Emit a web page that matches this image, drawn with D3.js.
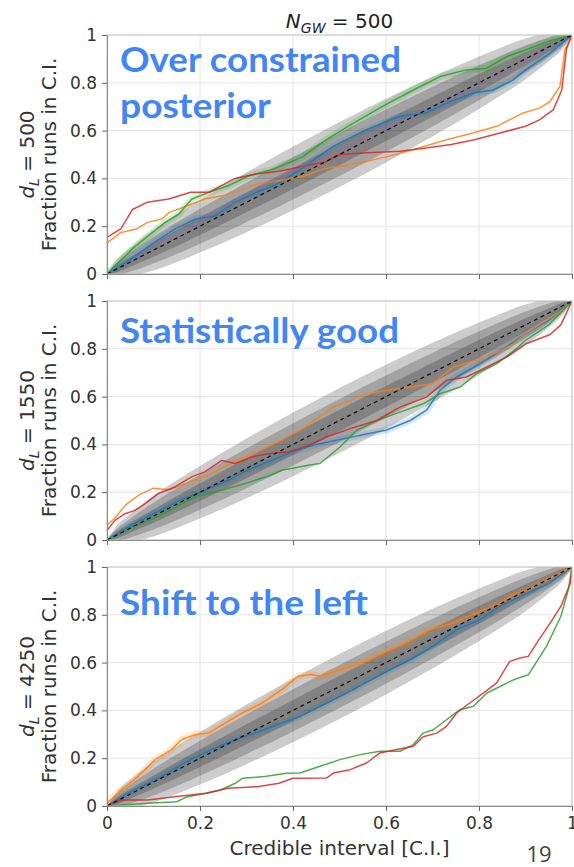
<!DOCTYPE html>
<html>
<head>
<meta charset="utf-8">
<script src="https://d3js.org/d3.v7.min.js"></script>
<style>
  body { margin: 0; background: #fff; }
  svg { display: block; }
</style>
</head>
<body>
<div class="chart"></div>
<script>
const svgWidth = 574;
const svgHeight = 867;

const margin = { top: 35, left: 107 };
const width = 465;
const panelHeight = 239;
const panelStep = 266;

// axis ticks
const xTicks = [0, 0.2, 0.4, 0.6, 0.8, 1];
const xTickLabels = ['0', '0.2', '0.4', '0.6', '0.8', '1'];
const yTicks = [0, 0.2, 0.4, 0.6, 0.8, 1];
const yTickLabels = ['0', '0.2', '0.4', '0.6', '0.8', '1'];

const distances = ['500', '1550', '4250'];
const notes = [['Over constrained', 'posterior'], ['Statistically good'], ['Shift to the left']];

// grey confidence bands: half width around the diagonal
const bandX = [0, 0.02, 0.05, 0.1, 0.2, 0.3, 0.4, 0.5, 0.6, 0.7, 0.8, 0.9, 0.95, 0.98, 1];
const band997 = [0, 0.038, 0.06, 0.085, 0.11, 0.125, 0.133, 0.136, 0.133, 0.125, 0.11, 0.085, 0.06, 0.038, 0];
const band95 = [0, 0.025, 0.04, 0.056, 0.073, 0.083, 0.088, 0.09, 0.088, 0.083, 0.073, 0.056, 0.04, 0.025, 0];
const band68 = [0, 0.013, 0.02, 0.028, 0.037, 0.042, 0.044, 0.045, 0.044, 0.042, 0.037, 0.028, 0.02, 0.013, 0];

// d_L = 500
const p1Blue = [[0,0],[0.05,0.06],[0.1,0.13],[0.146,0.188],[0.19,0.23],[0.232,0.243],[0.275,0.3],[0.32,0.34],[0.37,0.38],[0.415,0.437],[0.487,0.535],[0.558,0.604],[0.63,0.66],[0.687,0.674],[0.73,0.715],[0.788,0.757],[0.83,0.77],[0.874,0.812],[0.9,0.854],[0.95,0.92],[1,1]];
const p1Orange = [[0,0.13],[0.03,0.174],[0.063,0.188],[0.087,0.216],[0.118,0.23],[0.134,0.258],[0.165,0.279],[0.21,0.314],[0.25,0.328],[0.283,0.349],[0.323,0.377],[0.37,0.39],[0.425,0.41],[0.465,0.44],[0.52,0.455],[0.6,0.49],[0.658,0.52],[0.73,0.562],[0.787,0.59],[0.838,0.618],[0.895,0.674],[0.931,0.695],[0.953,0.722],[0.974,0.785],[0.985,0.94],[1,1]];
const p1Green = [[0,0],[0.018,0.035],[0.054,0.104],[0.089,0.16],[0.125,0.216],[0.154,0.25],[0.182,0.313],[0.218,0.341],[0.26,0.369],[0.304,0.41],[0.36,0.44],[0.42,0.49],[0.47,0.56],[0.52,0.62],[0.6,0.71],[0.659,0.77],[0.716,0.826],[0.773,0.854],[0.817,0.861],[0.86,0.91],[0.9,0.937],[0.953,0.976],[1,1]];
const p1Red = [[0,0.153],[0.03,0.19],[0.055,0.27],[0.086,0.3],[0.133,0.314],[0.18,0.342],[0.22,0.342],[0.275,0.4],[0.32,0.418],[0.37,0.43],[0.42,0.45],[0.47,0.47],[0.5,0.5],[0.56,0.507],[0.63,0.514],[0.69,0.528],[0.74,0.542],[0.79,0.562],[0.845,0.59],[0.9,0.618],[0.931,0.646],[0.96,0.688],[0.978,0.77],[0.988,0.94],[1,1]];
const p1Purple = [[0,0],[0.1,0.11],[0.2,0.22],[0.3,0.33],[0.4,0.43],[0.5,0.52],[0.6,0.61],[0.7,0.7],[0.8,0.79],[0.9,0.89],[1,1]];

// d_L = 1550
const p2Blue = [[0,0],[0.05,0.06],[0.1,0.11],[0.15,0.16],[0.2,0.2],[0.261,0.25],[0.3,0.29],[0.35,0.33],[0.4,0.37],[0.45,0.4],[0.5,0.42],[0.55,0.44],[0.6,0.459],[0.652,0.5],[0.687,0.543],[0.716,0.626],[0.752,0.682],[0.802,0.738],[0.845,0.79],[0.88,0.835],[0.9,0.863],[0.95,0.92],[1,1]];
const p2Orange = [[0,0.063],[0.016,0.09],[0.04,0.147],[0.07,0.19],[0.1,0.217],[0.134,0.21],[0.18,0.245],[0.22,0.273],[0.275,0.33],[0.323,0.37],[0.37,0.413],[0.415,0.46],[0.487,0.556],[0.558,0.612],[0.6,0.626],[0.652,0.64],[0.7,0.654],[0.745,0.724],[0.795,0.752],[0.845,0.79],[0.874,0.82],[0.9,0.863],[0.953,0.93],[0.976,0.958],[1,1]];
const p2Green = [[0,0],[0.05,0.05],[0.1,0.09],[0.15,0.14],[0.189,0.18],[0.25,0.21],[0.297,0.236],[0.35,0.27],[0.376,0.292],[0.433,0.313],[0.458,0.32],[0.501,0.389],[0.537,0.459],[0.58,0.5],[0.63,0.535],[0.68,0.57],[0.716,0.612],[0.76,0.64],[0.795,0.696],[0.838,0.738],[0.874,0.79],[0.9,0.835],[0.95,0.9],[1,1]];
const p2Red = [[0,0.04],[0.017,0.082],[0.039,0.11],[0.06,0.124],[0.082,0.152],[0.11,0.194],[0.146,0.222],[0.182,0.264],[0.21,0.285],[0.247,0.333],[0.275,0.32],[0.311,0.347],[0.347,0.361],[0.39,0.368],[0.433,0.395],[0.472,0.431],[0.523,0.466],[0.58,0.5],[0.63,0.556],[0.687,0.598],[0.73,0.668],[0.773,0.682],[0.817,0.724],[0.86,0.766],[0.9,0.82],[0.953,0.86],[0.976,0.9],[1,1]];

// d_L = 4250
const p3Blue = [[0,0],[0.046,0.054],[0.118,0.124],[0.175,0.19],[0.225,0.236],[0.275,0.277],[0.318,0.305],[0.376,0.347],[0.415,0.375],[0.472,0.43],[0.53,0.487],[0.594,0.556],[0.652,0.612],[0.7,0.668],[0.752,0.738],[0.802,0.78],[0.845,0.836],[0.89,0.878],[0.95,0.93],[1,1]];
const p3Orange = [[0,0.013],[0.032,0.068],[0.067,0.124],[0.103,0.194],[0.139,0.236],[0.16,0.277],[0.189,0.298],[0.218,0.305],[0.254,0.347],[0.29,0.389],[0.333,0.43],[0.376,0.487],[0.411,0.543],[0.437,0.55],[0.458,0.543],[0.501,0.57],[0.544,0.598],[0.594,0.64],[0.644,0.682],[0.695,0.738],[0.745,0.766],[0.795,0.808],[0.845,0.85],[0.881,0.891],[0.9,0.9],[0.95,0.95],[1,1]];
const p3Green = [[0,0],[0.087,0.011],[0.15,0.018],[0.173,0.039],[0.213,0.053],[0.244,0.067],[0.276,0.095],[0.291,0.116],[0.339,0.123],[0.386,0.137],[0.415,0.138],[0.458,0.166],[0.501,0.194],[0.544,0.215],[0.587,0.229],[0.63,0.229],[0.659,0.257],[0.68,0.305],[0.702,0.319],[0.73,0.361],[0.759,0.403],[0.788,0.417],[0.817,0.473],[0.845,0.5],[0.874,0.528],[0.906,0.549],[0.945,0.668],[0.976,0.793],[0.992,0.905],[1,1]];
const p3Red = [[0,0],[0.03,0.025],[0.087,0.025],[0.15,0.04],[0.213,0.053],[0.26,0.074],[0.323,0.081],[0.37,0.095],[0.4,0.116],[0.472,0.117],[0.487,0.138],[0.523,0.152],[0.558,0.18],[0.587,0.222],[0.623,0.236],[0.659,0.25],[0.68,0.29],[0.709,0.305],[0.73,0.333],[0.752,0.389],[0.78,0.431],[0.81,0.473],[0.838,0.515],[0.866,0.605],[0.89,0.62],[0.906,0.626],[0.929,0.696],[0.953,0.765],[0.976,0.835],[0.996,0.93],[1,1]];

const colors = {
  blue: '#1f77b4',
  orange: '#ff7f0e',
  green: '#2ca02c',
  red: '#d62728',
  purple: '#9467bd'
};

const panels = [
  { dist: distances[0], notes: notes[0], series: [['blue', p1Blue], ['orange', p1Orange], ['green', p1Green], ['red', p1Red], ['purple', p1Purple]] },
  { dist: distances[1], notes: notes[1], series: [['blue', p2Blue], ['orange', p2Orange], ['green', p2Green], ['red', p2Red]] },
  { dist: distances[2], notes: notes[2], series: [['blue', p3Blue], ['orange', p3Orange], ['green', p3Green], ['red', p3Red]] }
];

// lines that carry a soft coloured halo in the original
const haloes = [['green', 'blue'], ['blue'], ['blue', 'orange']];
// widths of the blue overlay text lines
const noteWidths = [[281, 151], [279], [248]];
const noteBaselines = [[72, 118], [343], [615]];

const svg = d3.select('.chart')
  .append('svg')
  .attr('width', svgWidth)
  .attr('height', svgHeight);

const x = d3.scaleLinear().domain([0, 1]).range([0, width]);

const mplFont = '"DejaVu Sans", sans-serif';

panels.forEach(function(panel, p) {
  const top = margin.top + p * panelStep;
  const y = d3.scaleLinear().domain([0, 1]).range([panelHeight, 0]);

  const g = svg.append('g')
    .attr('transform', `translate(${margin.left}, ${top})`);

  g.append('clipPath')
    .attr('id', 'clip' + p)
    .append('rect')
    .attr('width', width)
    .attr('height', panelHeight);

  // grid
  g.append('g').selectAll('line.gx')
    .data(xTicks)
    .enter().append('line')
    .attr('x1', d => x(d)).attr('x2', d => x(d))
    .attr('y1', 0).attr('y2', panelHeight)
    .attr('stroke', '#e4e4e4');
  g.append('g').selectAll('line.gy')
    .data(yTicks)
    .enter().append('line')
    .attr('y1', d => y(d)).attr('y2', d => y(d))
    .attr('x1', 0).attr('x2', width)
    .attr('stroke', '#e4e4e4');

  const plot = g.append('g').attr('clip-path', `url(#clip${p})`);

  // confidence bands
  [band997, band95, band68].forEach(function(band) {
    const area = d3.area()
      .x((d, i) => x(bandX[i]))
      .y0((d, i) => y(bandX[i] - d))
      .y1((d, i) => y(bandX[i] + d))
      .curve(d3.curveMonotoneX);
    plot.append('path')
      .datum(band)
      .attr('d', area)
      .attr('fill', '#000')
      .attr('fill-opacity', 0.2);
  });

  const line = d3.line()
    .x(d => x(d[0]))
    .y(d => y(d[1]));

  panel.series.forEach(function(s) {
    if (haloes[p].includes(s[0])) {
      plot.append('path')
        .datum(s[1])
        .attr('d', line)
        .attr('fill', 'none')
        .attr('stroke', colors[s[0]])
        .attr('stroke-opacity', 0.18)
        .attr('stroke-width', 7)
        .attr('stroke-linejoin', 'round');
    }
  });

  panel.series.forEach(function(s) {
    plot.append('path')
      .datum(s[1])
      .attr('d', line)
      .attr('fill', 'none')
      .attr('stroke', colors[s[0]])
      .attr('stroke-opacity', s[0] === 'purple' ? 0.45 : 0.85)
      .attr('stroke-width', 1.5)
      .attr('stroke-linejoin', 'round');
  });

  // diagonal
  plot.append('path')
    .datum([[0, 0], [1, 1]])
    .attr('d', line)
    .attr('stroke', '#111')
    .attr('stroke-width', 1.3)
    .attr('stroke-dasharray', '4,3.5');

  // frame
  g.append('rect')
    .attr('width', width)
    .attr('height', panelHeight)
    .attr('fill', 'none')
    .attr('stroke', '#c4c4c4');

  const xAxis = d3.axisBottom(x)
    .tickValues(xTicks)
    .tickSize(5)
    .tickPadding(6)
    .tickFormat((d, i) => p === 2 ? xTickLabels[i] : '');
  const xg = g.append('g')
    .attr('transform', `translate(0, ${panelHeight})`)
    .call(xAxis);

  const yAxis = d3.axisLeft(y)
    .tickValues(yTicks)
    .tickSize(5)
    .tickPadding(5)
    .tickFormat((d, i) => yTickLabels[i]);
  const yg = g.append('g').call(yAxis);

  [xg, yg].forEach(function(ax) {
    ax.select('.domain').attr('stroke', '#8c8c8c');
    ax.selectAll('.tick line').attr('stroke', '#666');
    ax.selectAll('.tick text')
      .attr('fill', '#333')
      .style('font-family', mplFont)
      .style('font-size', '17px');
  });

  // y label, two lines
  const cy = panelHeight / 2;
  const lab1 = g.append('text')
    .attr('transform', `translate(${27 - margin.left}, ${cy}) rotate(-90)`)
    .attr('text-anchor', 'middle')
    .attr('dy', '0.35em')
    .attr('fill', '#333')
    .style('font-family', mplFont)
    .style('font-size', '20px');
  lab1.append('tspan').style('font-style', 'italic').text('d');
  lab1.append('tspan').style('font-style', 'italic').style('font-size', '14px').attr('dy', 5).text('L');
  lab1.append('tspan').attr('dy', -5).text(' = ' + panel.dist);

  g.append('text')
    .attr('transform', `translate(${49 - margin.left}, ${cy}) rotate(-90)`)
    .attr('text-anchor', 'middle')
    .attr('dy', '0.35em')
    .attr('fill', '#333')
    .style('font-family', mplFont)
    .style('font-size', '20px')
    .text('Fraction runs in C.I.');

  // overlay annotation
  panel.notes.forEach(function(t, i) {
    svg.append('text')
      .attr('x', 120)
      .attr('y', noteBaselines[p][i])
      .attr('fill', '#4285f4')
      .attr('textLength', noteWidths[p][i])
      .attr('lengthAdjust', 'spacingAndGlyphs')
      .style('font-family', 'Lato, "Open Sans", sans-serif')
      .style('font-weight', 'bold')
      .style('font-size', '35px')
      .text(t);
  });
});

// title
const title = svg.append('text')
  .attr('x', margin.left + width / 2)
  .attr('y', 28)
  .attr('text-anchor', 'middle')
  .attr('fill', '#222')
  .style('font-family', mplFont)
  .style('font-size', '20px');
title.append('tspan').style('font-style', 'italic').text('N');
title.append('tspan').style('font-style', 'italic').style('font-size', '14px').attr('dy', 5).text('GW');
title.append('tspan').attr('dy', -5).text(' = 500');

// x label
svg.append('text')
  .attr('x', margin.left + width / 2)
  .attr('y', 855)
  .attr('text-anchor', 'middle')
  .attr('fill', '#333')
  .style('font-family', mplFont)
  .style('font-size', '20px')
  .text('Credible interval [C.I.]');

// slide number
svg.append('text')
  .attr('x', 539)
  .attr('y', 862)
  .attr('text-anchor', 'middle')
  .attr('fill', '#404040')
  .style('font-family', '"Open Sans", sans-serif')
  .style('font-size', '22px')
  .text('19');
</script>
</body>
</html>
